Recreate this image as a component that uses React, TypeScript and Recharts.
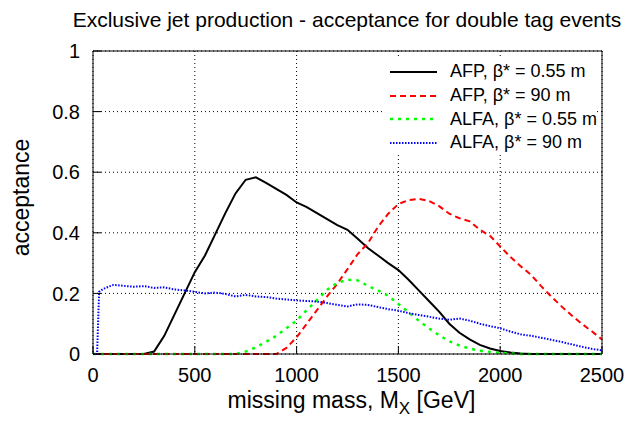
import React from "react";
import {
  LineChart,
  Line,
  XAxis,
  YAxis,
  CartesianGrid,
  Legend,
} from "recharts";

document.body.style.margin = "0";

const FONT = "'Liberation Sans', Arial, Helvetica, sans-serif";

// missing mass [GeV]
const mass = [
  0, 20, 30, 50, 100, 150, 200, 250, 300, 350, 400, 450, 500, 550, 600, 650,
  700, 750, 800, 850, 900, 950, 1000, 1050, 1100, 1150, 1200, 1250, 1300, 1350,
  1400, 1450, 1500, 1550, 1600, 1650, 1700, 1750, 1800, 1850, 1900, 1950, 2000,
  2050, 2100, 2150, 2200, 2250, 2300, 2350, 2400, 2450, 2500,
];

// AFP, beta* = 0.55 m
const afp055 = [
  0, 0, 0, 0, 0, 0, 0, 0, 0.008, 0.06, 0.13, 0.2, 0.27, 0.325, 0.395, 0.465,
  0.53, 0.575, 0.583, 0.565, 0.545, 0.525, 0.5, 0.485, 0.465, 0.445, 0.425,
  0.41, 0.38, 0.35, 0.325, 0.3, 0.277, 0.245, 0.21, 0.175, 0.14, 0.1, 0.07,
  0.048, 0.03, 0.018, 0.01, 0.005, 0.002, 0, 0, 0, 0, 0, 0, 0, 0,
];

// AFP, beta* = 90 m
const afp90 = [
  0, 0, 0, 0, 0, 0, 0, 0, 0, 0, 0, 0, 0, 0, 0, 0, 0, 0, 0, 0, 0, 0.02, 0.055,
  0.1, 0.145, 0.19, 0.232, 0.28, 0.33, 0.365, 0.42, 0.463, 0.495, 0.508, 0.512,
  0.505, 0.488, 0.463, 0.448, 0.438, 0.41, 0.39, 0.355, 0.32, 0.29, 0.262,
  0.225, 0.19, 0.158, 0.128, 0.1, 0.075, 0.048,
];

// ALFA, beta* = 0.55 m
const alfa055 = [
  0, 0, 0, 0, 0, 0, 0, 0, 0, 0, 0, 0, 0, 0, 0, 0, 0, 0.008, 0.022, 0.04, 0.06,
  0.085, 0.11, 0.145, 0.178, 0.212, 0.235, 0.245, 0.243, 0.225, 0.21, 0.192,
  0.165, 0.138, 0.11, 0.085, 0.062, 0.042, 0.028, 0.018, 0.011, 0.007, 0.004,
  0.002, 0, 0, 0, 0, 0, 0, 0, 0, 0,
];

// ALFA, beta* = 90 m
const alfa90 = [
  0, 0, 0.205, 0.215, 0.228, 0.225, 0.222, 0.224, 0.218, 0.22, 0.213, 0.21,
  0.205, 0.2, 0.203, 0.198, 0.19, 0.195, 0.19, 0.188, 0.183, 0.18, 0.177,
  0.175, 0.173, 0.168, 0.162, 0.157, 0.164, 0.162, 0.155, 0.148, 0.143, 0.135,
  0.129, 0.123, 0.117, 0.113, 0.117, 0.11, 0.1, 0.092, 0.085, 0.074, 0.065,
  0.06, 0.054, 0.047, 0.04, 0.032, 0.024, 0.017, 0.012,
];

const xTicks = [0, 500, 1000, 1500, 2000, 2500];
const yTicks = [0, 0.2, 0.4, 0.6, 0.8, 1];

const series = [
  { key: "afp055", name: "AFP, β* = 0.55 m", color: "#000000", dash: undefined, width: 2 },
  { key: "afp90", name: "AFP, β* = 90 m", color: "#ff0000", dash: "6 4", width: 2 },
  { key: "alfa055", name: "ALFA, β* = 0.55 m", color: "#00ff00", dash: "3 5", width: 2.5 },
  { key: "alfa90", name: "ALFA, β* = 90 m", color: "#0000ff", dash: "1.5 1.5", width: 2 },
];

const data = mass.map((m, i) => ({
  m,
  afp055: afp055[i],
  afp90: afp90[i],
  alfa055: alfa055[i],
  alfa90: alfa90[i],
}));

const LegendBox = () => (
  <div
    style={{
      background: "#fff",
      paddingTop: 2,
      fontFamily: FONT,
      fontSize: 18,
      color: "#000",
    }}
  >
    {series.map((s) => (
      <div
        key={s.key}
        style={{ display: "flex", alignItems: "center", height: 23.7, whiteSpace: "nowrap" }}
      >
        <svg width={65} height={10} style={{ flex: "none" }}>
          <line
            x1={5}
            x2={52}
            y1={5}
            y2={5}
            stroke={s.color}
            strokeWidth={s.width}
            strokeDasharray={s.dash}
          />
        </svg>
        <span>{s.name}</span>
      </div>
    ))}
  </div>
);

const XLabel = ({ viewBox }: any) => {
  const cx = viewBox.x + viewBox.width / 2 + 4;
  return (
    <text
      x={cx}
      y={viewBox.y + 54}
      textAnchor="middle"
      fontSize={23}
      fontFamily={FONT}
      fill="#000"
    >
      missing mass, M
      <tspan fontSize={17} dy={6}>
        X
      </tspan>
      <tspan dy={-6}> [GeV]</tspan>
    </text>
  );
};

const YLabel = ({ viewBox }: any) => {
  const x = viewBox.x + viewBox.width - 64;
  const y = viewBox.y + viewBox.height / 2 - 5;
  return (
    <text
      x={x}
      y={y}
      transform={`rotate(-90 ${x} ${y})`}
      textAnchor="middle"
      fontSize={23}
      fontFamily={FONT}
      fill="#000"
    >
      acceptance
    </text>
  );
};

const tickStyle = { fontSize: 20, fill: "#000", fontFamily: FONT };
const frame = { stroke: "#000", strokeWidth: 1 };

export default function App() {
  return (
    <div style={{ position: "relative", width: 639, height: 423, background: "#fff" }}>
      <div
        style={{
          position: "absolute",
          left: 347,
          top: 9,
          transform: "translateX(-50%)",
          whiteSpace: "nowrap",
          fontFamily: FONT,
          fontSize: 21,
          lineHeight: "21px",
          color: "#000",
          zIndex: 2,
        }}
      >
        Exclusive jet production - acceptance for double tag events
      </div>
      <LineChart
        width={639}
        height={423}
        data={data}
        margin={{ top: 50, right: 36, left: 92, bottom: 0 }}
      >
        <CartesianGrid stroke="#000" strokeDasharray="1 3" strokeWidth={1} />
        <XAxis
          dataKey="m"
          type="number"
          domain={[0, 2500]}
          ticks={xTicks}
          height={69}
          tickSize={-8}
          tickMargin={22}
          tick={tickStyle}
          axisLine={frame}
          tickLine={frame}
          label={<XLabel />}
        />
        <XAxis
          xAxisId="top"
          orientation="top"
          dataKey="m"
          type="number"
          domain={[0, 2500]}
          ticks={xTicks}
          height={1}
          tickSize={-8}
          tick={false}
          axisLine={frame}
          tickLine={frame}
        />
        <YAxis
          type="number"
          domain={[0, 1]}
          ticks={yTicks}
          width={1}
          tickSize={-8}
          tickMargin={21}
          tick={tickStyle}
          axisLine={frame}
          tickLine={frame}
          label={<YLabel />}
        />
        <YAxis
          yAxisId="right"
          orientation="right"
          type="number"
          domain={[0, 1]}
          ticks={yTicks}
          width={1}
          tickSize={-8}
          tick={false}
          axisLine={frame}
          tickLine={frame}
        />
        <Legend
          layout="vertical"
          align="center"
          verticalAlign="middle"
          content={<LegendBox />}
          wrapperStyle={{ left: 385, top: 58, width: 209, height: 97 }}
        />
        {series.map((s) => (
          <Line
            key={s.key}
            dataKey={s.key}
            name={s.name}
            type="linear"
            stroke={s.color}
            strokeWidth={s.width}
            strokeDasharray={s.dash}
            dot={false}
            activeDot={false}
            isAnimationActive={false}
          />
        ))}
      </LineChart>
    </div>
  );
}
